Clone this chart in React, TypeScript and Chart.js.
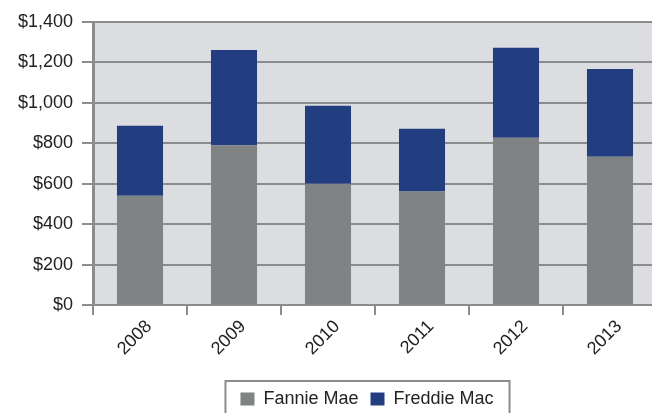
import React, { useEffect, useRef } from "react";
import { Chart, registerables } from "chart.js";

Chart.register(...registerables);

const categories = ["2008", "2009", "2010", "2011", "2012", "2013"];
const fannieMae = [540, 790, 600, 562, 828, 734];
const freddieMac = [347, 472, 386, 310, 444, 434];
const seriesNames = ["Fannie Mae", "Freddie Mac"];
const yMax = 1400;
const yStep = 200;

const FONT = "'Liberation Sans', Arial, sans-serif";
const GRID = "#8b8c8e";

const plotBg = {
  id: "plotBg",
  beforeDraw(chart: any) {
    const { ctx, chartArea } = chart;
    ctx.save();
    ctx.fillStyle = "#dcdde0";
    ctx.fillRect(chartArea.left, chartArea.top, chartArea.right - chartArea.left, chartArea.bottom - chartArea.top);
    ctx.restore();
  },
};

const legendShift = {
  id: "legendShift",
  afterLayout(chart: any) {
    const lg = chart.legend;
    if (!lg) return;
    lg.left -= 8;
    lg.right -= 8;
  },
};

const legendFrame = {
  id: "legendFrame",
  afterDraw(chart: any) {
    const lg = chart.legend;
    if (!lg || !lg.legendHitBoxes || !lg.legendHitBoxes.length) return;
    const boxes = lg.legendHitBoxes;
    const left = boxes[0].left - 15;
    const last = boxes[boxes.length - 1];
    const right = last.left + last.width + 16;
    const { ctx } = chart;
    ctx.save();
    ctx.strokeStyle = GRID;
    ctx.lineWidth = 2;
    ctx.strokeRect(left, lg.top + 3, right - left, 60);
    ctx.restore();
  },
};

export default function App() {
  const ref = useRef<HTMLCanvasElement | null>(null);
  useEffect(() => {
    if (!ref.current) return;
    const chart = new Chart(ref.current, {
      type: "bar",
      data: {
        labels: categories,
        datasets: [
          { label: seriesNames[0], data: fannieMae, backgroundColor: "#7f8383", borderWidth: 0 },
          { label: seriesNames[1], data: freddieMac, backgroundColor: "#233e80", borderWidth: 0 },
        ],
      },
      options: {
        responsive: false,
        animation: false,
        layout: { padding: { top: 22, left: 0, right: 0, bottom: 0 } },
        datasets: { bar: { barPercentage: 0.49, categoryPercentage: 1 } },
        scales: {
          x: {
            stacked: true,
            grid: { display: true, drawOnChartArea: false, drawTicks: true, tickLength: 10, color: GRID, lineWidth: 2, offset: true },
            border: { display: true, color: GRID, width: 2 },
            ticks: {
              font: { family: FONT, size: 18 },
              color: "#222",
              minRotation: 45,
              maxRotation: 45,
              labelOffset: 9,
              padding: 1,
              autoSkip: false,
            },
            afterFit(scale: any) {
              scale.height = 73;
            },
          },
          y: {
            stacked: true,
            min: 0,
            max: yMax,
            grid: { color: GRID, lineWidth: 2, tickLength: 11, drawTicks: true },
            border: { display: true, color: GRID, width: 3 },
            ticks: {
              stepSize: yStep,
              padding: 9,
              font: { family: FONT, size: 18 },
              color: "#222",
              callback: (v: any) => "$" + Number(v).toLocaleString("en-US"),
            },
            afterFit(scale: any) {
              scale.width = 93;
            },
          },
        },
        plugins: {
          legend: {
            position: "bottom",
            fullSize: false,
            labels: {
              font: { family: FONT, size: 18 },
              color: "#222",
              boxWidth: 14,
              boxHeight: 13,
              padding: 12,
            },
          },
          tooltip: { enabled: false },
        },
      },
      plugins: [plotBg, legendShift, legendFrame],
    } as any);
    return () => chart.destroy();
  }, []);
  return (
    <div style={{ position: "fixed", left: 0, top: 0, width: 652, height: 413, overflow: "hidden", background: "#fff" }}>
      <canvas ref={ref} width={657} height={418} style={{ display: "block" }} />
    </div>
  );
}
